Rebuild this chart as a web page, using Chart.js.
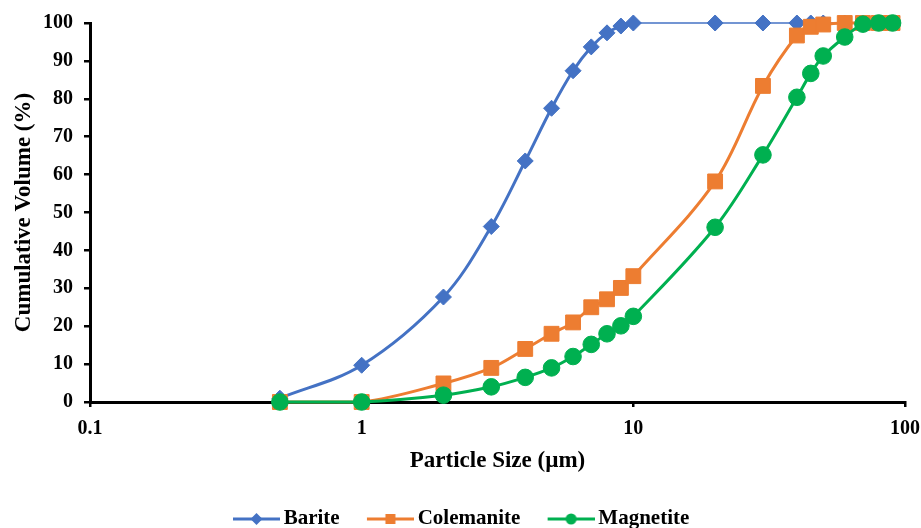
<!DOCTYPE html>
<html>
<head>
<meta charset="utf-8">
<script src="https://cdn.jsdelivr.net/npm/chart.js@4.4.1/dist/chart.umd.min.js"></script>
<style>
  html, body { margin: 0; padding: 0; background: #fff; }
</style>
</head>
<body>
<canvas id="psdChart" width="921" height="528"></canvas>
<script>
// particle size (µm) and cumulative volume (%) for each powder
const sizes = [0.5, 1, 2, 3, 4, 5, 6, 7, 8, 9, 10, 20, 30, 40, 45, 50, 60, 70, 80, 90];
const barite = [1.0, 9.7, 27.7, 46.3, 63.6, 77.5, 87.4, 93.7, 97.4, 99.2, 100, 100, 100, 100, 100, 100, 100, 100, 100, 100];
const colemanite = [0, 0, 4.9, 9.0, 14.0, 18.0, 21.0, 25.0, 27.1, 30.1, 33.2, 58.2, 83.4, 96.7, 99.0, 99.6, 100, 100, 100, 100];
const magnetite = [0, 0, 1.8, 4.0, 6.5, 9.0, 12.0, 15.2, 18.0, 20.1, 22.6, 46.1, 65.2, 80.4, 86.7, 91.3, 96.3, 99.7, 100, 100];
const xTicks = [0.1, 1, 10, 100];

const BLUE = '#4472C4';
const ORANGE = '#ED7D31';
const GREEN = '#00B050';
const FONT = '"Liberation Serif", "Times New Roman", serif';

const toPoints = ys => sizes.map((x, i) => ({ x: x, y: ys[i] }));

// little line-with-marker icons for the legend
function legendIcon(color, shape) {
    const c = document.createElement('canvas');
    c.width = 71;
    c.height = 14;
    const g = c.getContext('2d');
    g.strokeStyle = color;
    g.fillStyle = color;
    g.lineWidth = 3;
    g.beginPath();
    g.moveTo(24, 7);
    g.lineTo(71, 7);
    g.stroke();
    const cx = 47.5, cy = 7;
    g.beginPath();
    if (shape === 'diamond') {
        g.moveTo(cx, cy - 6);
        g.lineTo(cx + 6, cy);
        g.lineTo(cx, cy + 6);
        g.lineTo(cx - 6, cy);
        g.closePath();
    } else if (shape === 'square') {
        g.rect(cx - 5, cy - 5, 10, 10);
    } else {
        g.arc(cx, cy, 5.5, 0, Math.PI * 2);
    }
    g.fill();
    return c;
}

const icons = [legendIcon(BLUE, 'diamond'), legendIcon(ORANGE, 'square'), legendIcon(GREEN, 'circle')];

const ctx = document.getElementById('psdChart').getContext('2d');

const chart = new Chart(ctx, {
    type: 'line',
    data: {
        datasets: [{
            label: 'Barite',
            data: toPoints(barite),
            borderColor: BLUE,
            backgroundColor: BLUE,
            borderWidth: 3,
            // Excel draws the flat tail thinner
            segment: {
                borderWidth: c => c.p0DataIndex >= 10 ? 1.5 : 3
            },
            pointStyle: 'rectRot',
            pointRadius: 8,
            pointBorderWidth: 1,
            order: 3
        }, {
            label: 'Colemanite',
            data: toPoints(colemanite),
            borderColor: ORANGE,
            backgroundColor: ORANGE,
            borderWidth: 3,
            pointStyle: 'rect',
            pointRadius: 10.5,
            pointBorderWidth: 1,
            order: 2
        }, {
            label: 'Magnetite',
            data: toPoints(magnetite),
            borderColor: GREEN,
            backgroundColor: GREEN,
            borderWidth: 3,
            pointStyle: 'circle',
            pointRadius: 8.3,
            pointBorderWidth: 1,
            order: 1
        }]
    },
    options: {
        responsive: false,
        animation: false,
        datasets: {
            line: { tension: 0.35, clip: false, fill: false }
        },
        layout: {
            padding: { top: 20, right: 16, left: 0, bottom: -11.5 }
        },
        plugins: {
            tooltip: { enabled: false },
            legend: {
                position: 'bottom',
                labels: {
                    usePointStyle: true,
                    pointStyleWidth: 57.5,
                    padding: 10,
                    color: '#000',
                    font: { family: FONT, size: 21, weight: 'bold' },
                    sort: (a, b) => a.datasetIndex - b.datasetIndex,
                    generateLabels: chart => {
                        const items = Chart.defaults.plugins.legend.labels.generateLabels(chart);
                        items.forEach(it => { it.pointStyle = icons[it.datasetIndex]; });
                        return items;
                    }
                }
            }
        },
        scales: {
            x: {
                type: 'logarithmic',
                min: 0.1,
                max: 100,
                afterFit: scale => {
                    scale.height = 96.5;
                    scale.paddingRight = 0;
                },
                afterBuildTicks: scale => {
                    scale.ticks = xTicks.map(v => ({ value: v, major: true }));
                },
                border: { display: true, color: '#000', width: 3 },
                grid: {
                    display: true,
                    drawOnChartArea: false,
                    drawTicks: true,
                    tickLength: 5,
                    color: '#000',
                    lineWidth: 2.5
                },
                ticks: {
                    autoSkip: false,
                    maxRotation: 0,
                    padding: 10,
                    color: '#000',
                    font: { family: FONT, size: 20, weight: 'bold' },
                    callback: v => String(v)
                },
                title: {
                    display: true,
                    text: 'Particle Size (µm)',
                    color: '#000',
                    font: { family: FONT, size: 23, weight: 'bold' },
                    padding: { top: 0, bottom: 23.7 }
                }
            },
            y: {
                min: 0,
                max: 100,
                afterFit: scale => { scale.width = 90; },
                border: { display: true, color: '#000', width: 3 },
                grid: {
                    display: true,
                    drawOnChartArea: false,
                    drawTicks: true,
                    tickLength: 6,
                    color: '#000',
                    lineWidth: 2.5
                },
                ticks: {
                    stepSize: 10,
                    padding: 11,
                    color: '#000',
                    font: { family: FONT, size: 20, weight: 'bold' }
                },
                title: {
                    display: true,
                    text: 'Cumulative Volume (%)',
                    color: '#000',
                    font: { family: FONT, size: 23, weight: 'bold' },
                    padding: { top: 10, bottom: 0 }
                }
            }
        }
    }
});
</script>
</body>
</html>
